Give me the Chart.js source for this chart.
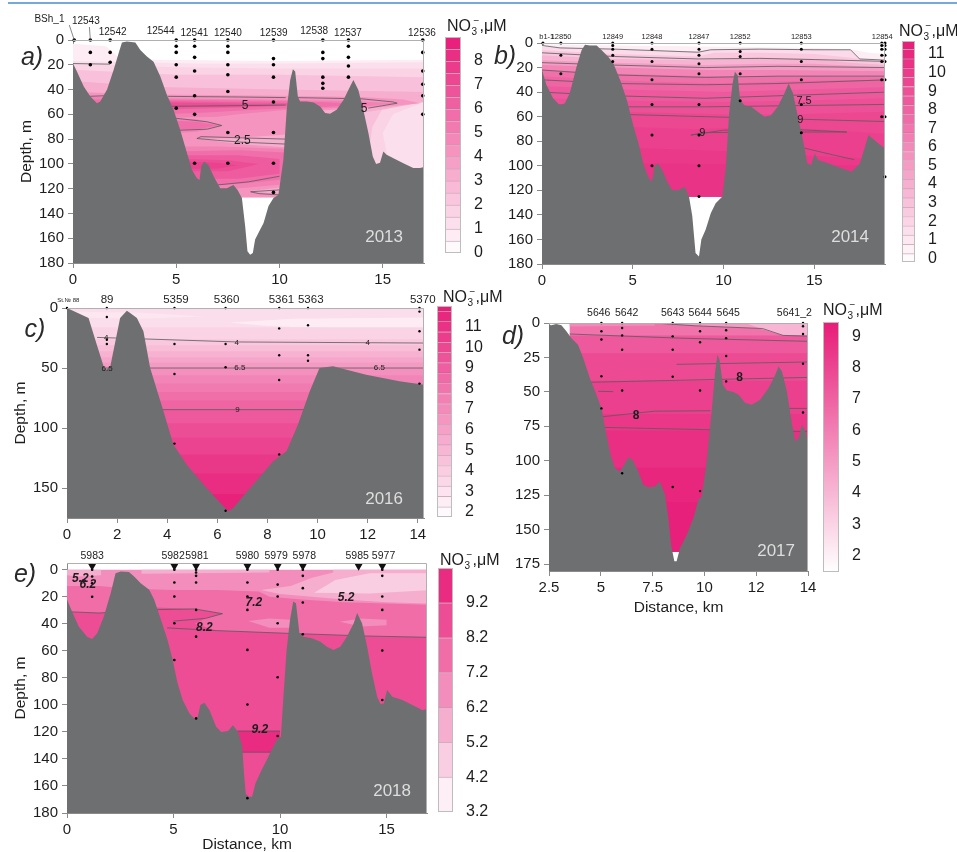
<!DOCTYPE html>
<html>
<head>
<meta charset="utf-8">
<title>NO3 sections 2013-2018</title>
<script src="https://cdn.jsdelivr.net/npm/chart.js@4.4.1/dist/chart.umd.min.js"></script>
<style>
  html, body { margin: 0; padding: 0; background: #fff; }
  body { position: relative; width: 957px; height: 852px; overflow: hidden; }
  .rule { position: absolute; left: 8px; right: 0; top: 2px; height: 2px; background: #74aadb; }
  canvas { position: absolute; }
</style>
</head>
<body>
<div class="rule"></div>
<canvas id="secA"></canvas><canvas id="barA"></canvas>
<canvas id="secB"></canvas><canvas id="barB"></canvas>
<canvas id="secC"></canvas><canvas id="barC"></canvas>
<canvas id="secD"></canvas><canvas id="barD"></canvas>
<canvas id="secE"></canvas><canvas id="barE"></canvas>
<script>
// ---------- a) 2013 ----------
const stationsA = ['BSh_1', '12543', '12542', '12544', '12541', '12540', '12539', '12538', '12537', '12536'];
const stationKmA = [0.06, 0.84, 1.8, 5.0, 5.89, 7.5, 9.71, 12.1, 13.34, 16.94];
const labelKmA = [-1.14, 0.62, 1.92, 4.24, 5.88, 7.5, 9.72, 11.68, 13.32, 16.9];
const castsA = [[0], [0, 10, 20], [0, 10, 18], [0, 5, 10, 20, 30, 55], [0, 5, 14, 25, 45, 60, 99.5],
  [0, 5, 10, 20, 28, 41.6, 74.7, 99.5], [0, 15, 20, 30, 50, 74.7, 99.5, 123], [0, 10, 15, 30, 35, 39],
  [0, 5, 14, 21, 30], [0, 10, 25, 35.7, 45, 60]];
const bathyA = [[0,19],[0.19,25.5],[0.52,37.6],[0.84,45.7],[1.16,51],[1.32,49.7],[1.65,40],[1.97,24],[2.21,10.7],
  [2.37,2],[2.61,1.3],[3.02,2],[3.26,8],[3.58,13.4],[3.9,17.5],[4.23,29.5],[4.55,44.3],[4.87,56.4],[5.19,72.5],
  [5.52,91.3],[5.76,104.8],[6.0,111.5],[6.13,112.8],[6.21,102],[6.35,98],[6.56,100.8],[6.81,110],[7.13,119.6],
  [7.45,119.6],[7.77,117],[7.97,121],[8.18,127.6],[8.34,150.5],[8.45,170.6],[8.58,173.3],[8.71,172],[8.82,161],
  [8.98,155.8],[9.23,147.8],[9.47,134],[9.71,127.6],[9.95,125],[10.19,96.7],[10.35,56.4],[10.52,32.2],[10.65,23.6],
  [10.76,25.5],[10.89,45.7],[11.0,49.7],[11.32,49.7],[11.65,50.5],[11.97,53.7],[12.21,59],[12.45,59.6],[12.77,56.4],
  [13.1,48.4],[13.42,37.6],[13.58,32.2],[13.82,40.3],[14.06,56.4],[14.31,75.2],[14.52,94],[14.68,100],[14.87,99],
  [15.03,90],[15.19,92.6],[15.52,95.4],[16.0,99.4],[16.48,103.4],[16.81,103.4],[17,102.6]];
const zonesA = [
  [0.75, [[0,3],[1.6,5],[2.2,14],[4,16],[10,17],[17,16],[17,127],[0,127]]],
  [1.25, [[0,17],[6,19],[10,19],[17,18],[17,127],[0,127]]],
  [1.75, [[0,19],[5,22],[10,23],[17,23],[17,50],[15.5,60],[15,75],[15.3,100],[14.5,127],[0,127]]],
  [2.5, [[0,24],[5,28],[10,28],[17,30],[17,45],[15,55],[14.5,70],[14,127],[0,127]]],
  [3.25, [[0,33],[4,38],[10,40],[17,42],[17,50],[15,56],[13.5,60],[13.5,127],[0,127]]],
  [4.25, [[0,42],[4,44],[10,45],[14,46],[16,48],[16.8,51],[15,54],[12,57],[10.5,60],[10.5,76],[8,79],[6.2,80],[8,84],
          [10.5,87],[10.5,118],[8.5,122],[10.5,125],[10.5,127],[0,127]]],
  [5.0, [[0,45],[4,47],[9,48],[13,49],[15.6,51],[14,54],[10.5,56],[8,60],[7,62],[4,63],[0,63]]],
  [5.0, [[4,63],[6,64],[7.3,69],[6,74],[4,76]]],
  [5.0, [[4.5,86],[7,86],[10.5,88],[10.5,116],[8.5,119],[6,122],[4.5,120]]],
  [5.75, [[0,48],[4,48],[9,49],[12,50],[14.4,52],[12,54],[9,56],[6,59],[4,60],[0,60]]],
  [5.75, [[4.5,65],[6,66],[7,69],[6,72],[4.5,73]]],
  [5.75, [[5,90],[8,89],[10.5,91],[10.5,112],[8,116],[6,118],[5,116]]],
  [6.5, [[4.5,49.5],[9,50.5],[12,51.5],[9,54],[4.5,56]]],
  [6.5, [[5.5,93],[8,93],[10,96],[10,108],[8,112],[5.5,112]]],
  [7.0, [[4.5,50.5],[8,51.5],[10,52.5],[8,53.5],[4.5,54.5]]],
  [7.0, [[5.5,96],[7.5,97],[9,100],[7.5,106],[5.5,106]]],
  [7.5, [[5.5,98],[7,99],[8,101],[7,104],[5.5,104]]]
];
const linesA = [
  [[0,19],[1.8,19.5]],
  [[0.7,45.5],[1.5,45]],
  [[4.6,45.5],[8,46],[10.3,46.5]],
  [[10.8,46.5],[14,47.5],[15.5,50],[15.7,51],[15,53],[14.3,55]],
  [[4.8,53.5],[8,53],[10.3,52.5]],
  [[4.9,63],[6.5,66],[7.2,69],[6.5,72],[4.9,73]],
  [[10.3,80],[8.2,79],[6.2,78],[6,79.5],[7,81],[8.2,82.5],[10.3,84]],
  [[7,117],[8.5,114.5],[10,110]],
  [[10,121],[8.6,122.5],[9,124],[10,125]]
];
const isoLabelsA = [['5', 8.34, 53], ['2.5', 8.2, 81], ['5', 14.1, 55.6]];
const levelsA = [0,0.5,1,1.5,2,2.5,3,3.5,4,4.5,5,5.5,6,6.5,7,7.5,8,8.5,9];
const barTicksA = [0,1,2,3,4,5,6,7,8];

// ---------- b) 2014 ----------
const stationsB = ['b1-1', '12850', '12849', '12848', '12847', '12852', '12853', '12854', ''];
const stationKmB = [0.05, 1.04, 3.9, 6.06, 8.65, 10.92, 14.29, 18.72, 18.9];
const labelKmB = [0.26, 1.05, 3.9, 6.06, 8.65, 10.92, 14.29, 18.75, 18.9];
const castsB = [[0], [0, 10, 25], [0, 2, 5, 10, 15], [0, 5, 15, 30, 50, 75, 100], [0, 5, 10, 17, 25, 50, 75, 100, 125],
  [0, 7, 11, 25, 47], [0, 5, 15, 30, 50, 73], [0, 2, 5, 10, 15, 30, 60], [0, 2, 5, 10, 15, 30, 60, 109]];
const bathyB = [[0,22],[0.24,34],[0.61,45],[0.98,50.6],[1.26,49],[1.53,41],[1.9,19.5],[2.18,6],[2.37,1.4],[2.64,2],
  [3.01,2],[3.29,6],[3.66,11.4],[3.94,16.8],[4.31,30.3],[4.68,46.6],[5.05,68.2],[5.32,81.8],[5.6,99.4],[5.88,110],
  [6.06,113],[6.19,100.7],[6.38,98],[6.62,103.4],[6.9,113],[7.17,119.7],[7.54,119.7],[7.86,117],[8.1,125],[8.28,141],
  [8.46,171],[8.65,173.8],[8.78,160],[9.02,152],[9.3,138.6],[9.57,130.5],[9.94,125],[10.13,100.7],[10.31,57.4],
  [10.5,33],[10.63,23.5],[10.78,26.3],[10.92,46.6],[11.15,50.6],[11.52,52],[11.89,56],[12.26,60],[12.62,58.8],
  [12.99,52],[13.36,41],[13.59,33],[13.83,41],[14.1,60],[14.38,79],[14.62,98],[14.84,99.4],[15.03,90],[15.21,95.3],
  [15.77,98],[16.51,102],[17.06,104.8],[17.52,98],[17.99,75],[18.54,81.8],[19,87]];
const zonesB = [
  [0.75, [[0,1],[4,2],[10,3],[15,4],[17,5],[18,8],[19,9],[19,125],[0,125]]],
  [1.75, [[0,3],[4,5],[8.5,7],[9.5,5],[12,4.5],[15,5],[17,6],[17.5,13],[19,14],[19,125],[0,125]]],
  [2.75, [[0,6],[4,9],[8.6,11],[9.5,8],[12,8],[15,9],[17,12],[19,16],[19,125],[0,125]]],
  [3.75, [[0,10],[4,13],[8.6,14],[12,12],[15,13],[17,16],[19,18],[19,125],[0,125]]],
  [5.0, [[0,14],[4,16],[9,18],[12,17],[15,17],[19,20],[19,125],[0,125]]],
  [6.25, [[0,18],[4,20],[9,22],[13,22],[19,23],[19,125],[0,125]]],
  [7.25, [[0,22],[4,25],[9,27],[13,27],[19,28],[19,125],[0,125]]],
  [7.9, [[0,27],[5,31],[10,33],[14,31],[19,30],[19,125],[0,125]]],
  [8.5, [[0,35],[5,38],[10,40],[14,38],[19,36],[19,125],[0,125]]],
  [9.0, [[0,45],[5,47],[10,48],[14,47],[19,45],[19,125],[0,125]]],
  [9.4, [[4,56],[10,58],[14,58],[19,56],[19,125],[4,125]]],
  [9.8, [[4,68],[8.3,70],[11,69],[15,70],[17,72],[19,74],[19,125],[4,125]]],
  [10.2, [[4,85],[10,88],[13,90],[15,92],[19,95],[19,125],[4,125]]],
  [10.5, [[4,98],[19,100],[19,125],[4,125]]]
];
const linesB = [
  [[0,2],[1,4],[4,5],[8.6,7.5],[9.3,5.5],[12,5],[15,5.5],[17,5.5],[17.5,13],[19,14]],
  [[0,8],[4,11],[8.6,13],[12,12.5],[15,13.5],[19,15]],
  [[0,16],[4,18],[9,20],[13,19],[19,20]],
  [[0,22],[4,26],[9,28],[13,27],[19,27]],
  [[0,30],[4,33],[9,34],[13,33],[19,30]],
  [[0,40],[4,43],[9,45],[13,43],[19,40]],
  [[0,50],[4,52],[9,52],[14,51],[19,50]],
  [[4,58],[9,60],[14,62],[19,64]],
  [[8.2,75],[9,73],[12,72.5],[16.8,72.5],[14,70.5],[10,71],[8.2,75]],
  [[14,84],[16,91],[17.2,95]]
];
const isoLabelsB = [['7.5', 14.44, 47], ['9', 14.23, 62.8], ['9', 8.84, 73]];
const levelsB = [-0.2,0.25,0.75,1.25,1.75,2.25,2.75,3.25,3.75,4.25,4.75,5.25,5.75,6.25,6.75,7.25,7.75,8.25,8.75,
  9.25,9.75,10.25,10.75,11.25,11.7];
const barTicksB = [0,1,2,3,4,5,6,7,8,9,10,11];

// ---------- c) 2016 ----------
const stationsC = ['St.№ 88', '89', '5359', '5360', '5361', '5363', '5370'];
const stationKmC = [0, 1.59, 4.29, 6.33, 8.47, 9.62, 14.07];
const labelKmC = [0.05, 1.6, 4.35, 6.37, 8.56, 9.73, 14.2];
const castsC = [[0], [0, 7.5, 26.4, 30], [0, 30, 55, 113], [0, 30, 49.4, 169], [0, 17, 39.4, 60, 122],
  [0, 14.4, 39.4, 44], [0, 3, 19.4, 34.7, 63]];
const bathyC = [[0,0],[0.86,8.3],[1.19,30.6],[1.46,48.6],[1.57,51.4],[1.73,48.6],[2.12,8.3],[2.39,2.2],[2.52,4.2],
  [2.79,8.3],[3.05,19.4],[3.32,50],[3.85,86],[4.25,114],[4.78,130.6],[5.57,150],[6.24,165.3],[6.44,169.4],
  [6.63,166.7],[7.43,147],[8.23,127.8],[8.76,119.4],[9.22,97],[9.69,69.4],[10.08,50],[10.62,48.6],[11.94,55.6],
  [13.27,61],[14.25,64]];
// [NO3 value, depth where that layer begins]
const layersC = [[3.25,0],[3.75,16],[4.25,26],[4.75,31],[5.25,36],[5.75,41],[6.25,45.5],[6.75,50],[7.25,56],
  [7.75,63],[8.25,70],[8.75,77],[9.25,85],[9.75,96],[10.25,108],[10.75,122],[11.25,138],[11.75,155]];
const streaksC = [
  [2.6, [[6.5,12],[9,9],[14.25,8],[14.25,19],[11,17],[8,15]]],
  [2.9, [[0,3],[3,4],[5.5,7],[3,9],[0,8]]]
];
const linesC = [[[1.2,24.5],[6.8,28.3],[14.25,29.2]], [[1.5,50],[14.25,50]], [[3.8,84.7],[9.6,84.7]]];
const isoLabelsC = [['4',1.57,25],['4',6.77,29],['4',12.0,29],['6.5',1.6,50.5],['6.5',6.9,50],['6.5',12.47,50],['9',6.8,85]];
const levelsC = [1.75,2.25,2.75,3.25,3.75,4.25,4.75,5.25,5.75,6.25,6.75,7.25,7.75,8.25,8.75,9.25,9.75,10.25,
  10.75,11.25,11.75,12];
const barTicksC = [2,3,4,5,6,7,8,9,10,11];

// ---------- d) 2017 ----------
const stationsD = ['5646', '5642', '5643', '5644', '5645', '5641_2'];
const stationKmD = [5.03, 6.03, 8.47, 9.79, 11.05, 14.76];
const labelKmD = [4.9, 6.25, 8.47, 9.8, 11.15, 14.34];
const castsD = [[0, 6, 12, 38.7, 62], [0, 3.6, 9, 19.4, 49, 109], [0, 9.7, 19.4, 39, 119], [0, 6, 14, 49, 122],
  [0, 5.3, 11, 24, 42.4], [0, 2.4, 8, 29.5, 65]];
const xTickLabelsD = ['2.5', '5', '7.5', '10', '12', '14'];
const bathyD = [[2.5,1.2],[2.61,1.7],[2.85,0.7],[3.1,1.7],[3.34,6],[3.58,11],[3.9,15.7],[4.15,25.4],[4.47,40],
  [4.79,52],[5.03,61.7],[5.24,78.7],[5.47,95.6],[5.68,105.3],[5.92,107.7],[6.08,104],[6.32,97.6],[6.53,99.2],
  [6.81,107.7],[7.05,117.4],[7.29,119.3],[7.61,118.6],[7.85,115],[8.1,124.7],[8.26,141.6],[8.39,161],[8.47,167],
  [8.55,173],[8.66,173],[8.82,163.4],[9.15,153.7],[9.47,141.6],[9.71,128.3],[9.87,126],[10.11,100.5],[10.35,64],
  [10.52,35],[10.63,23],[10.73,26.6],[10.89,44.8],[11.08,49],[11.4,50],[11.65,52],[11.97,58],[12.29,59.3],
  [12.69,55.7],[13.1,47.2],[13.42,37.5],[13.58,31.5],[13.74,35],[13.98,49.6],[14.23,73.8],[14.39,86],[14.55,83.5],
  [14.71,73.8],[14.87,78.7],[15,87]];
const layersD = [[6.4,0],[7.3,9],[7.8,22],[8.2,42],[8.5,66],[8.8,78],[9.1,105],[9.3,130]];
const patchesD = [
  [5.6, [[3.5,0],[7.6,0],[7.6,2],[3.5,2.5]]],
  [5.0, [[7.6,0],[15,0],[15,3],[12.8,4],[9.5,2]]],
  [4.0, [[12,0],[15,0],[15,9.5],[13.8,9],[12.8,4.5]]]
];
const linesD = [
  [[7.6,0],[9.5,2],[12.8,4],[13.8,9],[15,9.5]],
  [[3.5,8],[8.8,11],[15,13.3]],
  [[8.66,30],[15,28.3]],
  [[4.5,43],[15,39.5]],
  [[4.87,49.6],[5.6,49.8]],
  [[5.1,68],[7.6,64],[10.3,63.7]],
  [[13.8,62],[15,62]],
  [[5.2,75.8],[10.3,77.5]],
  [[13.9,78.7],[15,78.7]]
];
const isoLabelsD = [['8', 11.7, 40], ['8', 6.7, 67]];
const barTicksD = [2,3,4,5,6,7,8,9];

// ---------- e) 2018 ----------
const stationsE = ['5983', '5982', '5981', '5980', '5979', '5978', '5985', '5977'];
const stationKmE = [1.18, 5.04, 6.06, 8.47, 9.89, 11.07, 13.69, 14.8];
const labelKmE = [1.18, 4.98, 6.1, 8.47, 9.82, 11.14, 13.62, 14.86];
const castsE = [[0, 5, 10, 20], [0, 9.4, 19.8, 39.6, 66.8], [0, 2, 4.5, 9.4, 29.7, 49.5, 110],
  [0, 9.4, 19.8, 29.7, 59.3, 99.7, 169], [0, 11, 19.8, 39.6, 79.6, 123], [0, 4.5, 13.6, 24.2, 47.7], [],
  [0, 4.5, 19.8, 29.7, 59.8, 96.4]];
const bathyE = [[0,22],[0.24,31],[0.55,42],[0.94,49.5],[1.18,51.2],[1.42,47],[1.73,34.6],[2.05,17.3],[2.28,2.5],
  [2.52,1.2],[2.91,1.7],[3.15,5],[3.46,10],[3.86,14.8],[4.09,22],[4.41,37],[4.72,52],[4.96,66.8],[5.19,84],
  [5.43,96.4],[5.75,106.3],[5.98,110],[6.14,109],[6.26,100],[6.45,98.4],[6.69,103.9],[7.0,116.2],[7.24,120],
  [7.56,119.4],[7.79,115],[8.03,120],[8.22,129.8],[8.31,151],[8.39,165.7],[8.53,168],[8.69,168],[8.85,158],
  [9.13,148.4],[9.37,141],[9.6,133.5],[9.84,126],[10.04,123.6],[10.15,96.4],[10.31,59.3],[10.47,37],[10.62,23.5],
  [10.75,24.7],[10.91,47],[11.1,49.5],[11.49,50.7],[11.88,53],[12.2,57],[12.51,59.3],[12.83,57],[13.14,49.5],
  [13.46,39.6],[13.62,32],[13.85,39.6],[14.09,57],[14.32,76.7],[14.56,94],[14.72,99.4],[14.87,99],[15.03,89],
  [15.27,94],[15.74,96.4],[16.21,100],[16.69,104],[17,102.6]];
// value = lower bound of the band
const zonesE = [
  [6.2, [[0,0],[17,0],[17,170],[0,170]]],
  [5.2, [[0,0],[1.6,0],[1.6,4],[0.5,5],[0,4]]],
  [5.2, [[3.5,0],[9.5,0],[9.5,2],[3.5,3]]],
  [5.2, [[9.1,15],[10.5,12],[11.5,6],[12.5,2],[12.5,0],[17,0],[17,25],[15,24],[13,22],[11.5,20],[10,18]]],
  [4.2, [[11.6,17],[12.6,7.5],[14.2,2.5],[17,2.5],[17,15],[14.2,17.5]]],
  [7.2, [[0,12],[1.5,12],[3,14],[5,15],[7,15],[9,16],[9.5,20],[11,22],[13,24],[17,26],[17,170],[0,170]]],
  [6.2, [[8.5,38],[9.5,36],[10.5,37],[10.5,43],[9.5,43]]],
  [6.2, [[12.8,38.5],[13.8,36],[15,37],[15,41],[13.8,42]]],
  [8.2, [[0,31],[1.5,32],[4.2,28],[6,29],[7.3,32.5],[6.5,36],[6,40],[7,45],[10.3,47],[14,49],[17,50],[17,170],[0,170]]],
  [9.2, [[8,119],[10,119],[10,135],[8,135]]]
];
const linesE = [
  [[0,31],[1.5,32],[4.2,29.5],[6,29],[7.3,32.5],[6.5,36],[5,38]],
  [[4.7,43],[7,45],[10.3,47],[14,49],[17,50]],
  [[8,119.5],[10,119.5]],
  [[8.2,135],[9.6,135]]
];
const isoLabelsE = [['5.2',0.63,6.9],['6.2',0.98,11],['7.2',8.77,24.7],['8.2',6.45,42.5],['5.2',13.1,21],['9.2',9.05,118.7]];
const levelsE = [3.2,4.2,5.2,6.2,7.2,8.2,9.2,10.2];
const barTicksE = [3.2,4.2,5.2,6.2,7.2,8.2,9.2];

const depthTicks20 = [0,20,40,60,80,100,120,140,160,180];

// ---------- drawing ----------
const FAM = '"Liberation Sans Narrow","Liberation Sans",Arial,sans-serif';
const INK = '#1d1d1d';
const GROUND = '#6e6f70';
const PINK = [231, 28, 120];

function shade(v, lo, hi) {
  const t = Math.max(0, Math.min(1, (v - lo) / (hi - lo)));
  const c = PINK.map(p => Math.round(255 + (p - 255) * t));
  return `rgb(${c[0]},${c[1]},${c[2]})`;
}
function xy(list) { return list.map(([x, y]) => ({x, y})); }
function slab(x0, x1, top, floor) { return [[x0, top], [x1, top], [x1, floor], [x0, floor]]; }
function area(poly, col) {
  return {data: xy(poly), fill: 'shape', backgroundColor: col, borderColor: col, borderWidth: 0, pointRadius: 0, tension: 0};
}

function section(id, box, o) {
  const [L, T, R, B] = box;
  const ML = 75, MT = 45, MR = 20, MB = 55;
  const cv = document.getElementById(id);
  cv.width = R - L + ML + MR;
  cv.height = B - T + MT + MB;
  cv.style.left = (L - ML) + 'px';
  cv.style.top = (T - MT) + 'px';

  const sets = [];
  o.zones.forEach(([v, poly]) => sets.push(area(poly, o.color(v))));
  o.lines.forEach(l => sets.push({data: xy(l), borderColor: '#5a5a5a', borderWidth: 0.8, pointRadius: 0, fill: false, tension: 0}));
  const b = o.bathy;
  sets.push(area(b.concat([[b[b.length - 1][0], o.yMax + 10], [b[0][0], o.yMax + 10]]), GROUND));
  const dots = [];
  o.casts.forEach((depths, i) => depths.forEach(d => dots.push({x: o.stKm[i], y: d})));
  sets.push({data: dots, showLine: false, pointRadius: o.dot, pointBackgroundColor: '#000', pointBorderWidth: 0, clip: false});
  if (o.marks) {
    sets.push({data: o.stKm.map(x => ({x, y: -2.6})), showLine: false, pointStyle: 'triangle', pointRotation: 180,
      pointRadius: 4.5, pointBackgroundColor: '#111', pointBorderWidth: 0, clip: false});
  }
  sets.forEach((s, i) => { s.order = sets.length - i; });

  const tickFont = {family: FAM, size: 15};
  const xLabels = o.xLabels || o.xTicks.map(String);

  new Chart(cv, {
    type: 'line',
    data: {datasets: sets},
    options: {
      responsive: false, animation: false, events: [],
      layout: {padding: {left: 0, top: MT, right: MR, bottom: 0}},
      plugins: {legend: {display: false}, tooltip: {enabled: false}},
      scales: {
        x: {
          type: 'linear', min: o.xMin, max: o.xMax,
          afterBuildTicks: s => { s.ticks = o.xTicks.map(v => ({value: v})); },
          afterFit: s => { s.height = MB; s.paddingLeft = 0; s.paddingRight = 0; },
          ticks: {font: tickFont, color: INK, padding: 3, autoSkip: false, maxRotation: 0, callback: (v, i) => xLabels[i]},
          grid: {drawOnChartArea: false, tickLength: 5, color: '#8a8a8a'},
          border: {color: '#8a8a8a'}
        },
        y: {
          type: 'linear', reverse: true, min: o.yMin, max: o.yMax,
          afterBuildTicks: s => { s.ticks = o.yTicks.map(v => ({value: v})); },
          afterFit: s => { s.width = ML; s.paddingTop = 0; s.paddingBottom = 0; },
          ticks: {font: tickFont, color: INK, padding: 4, autoSkip: false, callback: v => String(v)},
          grid: {drawOnChartArea: false, tickLength: 5, color: '#8a8a8a'},
          border: {color: '#8a8a8a'}
        }
      }
    },
    plugins: [{
      id: 'decor',
      afterDraw(chart) {
        const {ctx, chartArea: a, scales: {x, y}} = chart;
        ctx.save();
        ctx.strokeStyle = '#b0b0b0';
        ctx.lineWidth = 1;
        ctx.beginPath();
        ctx.moveTo(a.left, a.top + 0.5); ctx.lineTo(a.right - 0.5, a.top + 0.5); ctx.lineTo(a.right - 0.5, a.bottom);
        ctx.stroke();

        // station names
        ctx.fillStyle = INK;
        ctx.textAlign = 'center';
        ctx.textBaseline = 'middle';
        o.names.forEach((n, i) => {
          const size = Array.isArray(o.nameSize) ? o.nameSize[i] : o.nameSize;
          const lift = Array.isArray(o.lift) ? o.lift[i] : o.lift;
          ctx.font = `${size}px ${FAM}`;
          const lx = x.getPixelForValue(o.nameKm[i]);
          ctx.fillText(n, lx, a.top - lift);
          if (o.leaders && o.leaders.includes(i)) {
            const sx = x.getPixelForValue(o.stKm[i]);
            ctx.strokeStyle = '#555';
            ctx.lineWidth = 0.7;
            ctx.beginPath();
            ctx.moveTo(lx + (sx - lx) * 0.8, a.top - lift + 6);
            ctx.lineTo(sx, a.top);
            ctx.stroke();
          }
        });

        // isoline labels
        ctx.font = o.isoFont;
        o.isoLabels.forEach(([t, vx, vy]) => ctx.fillText(t, x.getPixelForValue(vx), y.getPixelForValue(vy)));

        // year
        ctx.font = `17px ${FAM}`;
        ctx.fillStyle = '#dedede';
        ctx.textAlign = 'right';
        ctx.textBaseline = 'bottom';
        ctx.fillText(o.year, a.right - o.yearAt[0], a.bottom - o.yearAt[1]);

        // panel letter
        ctx.font = `italic 25px "Liberation Sans",Arial,sans-serif`;
        ctx.fillStyle = '#2a2a2a';
        ctx.textAlign = 'center';
        ctx.textBaseline = 'middle';
        ctx.fillText(o.letter, a.left + o.letterAt[0], a.top + o.letterAt[1]);

        // axis titles
        ctx.fillStyle = INK;
        ctx.font = `15.5px ${FAM}`;
        if (o.depthTitle) {
          ctx.save();
          ctx.translate(a.left - 46, (a.top + a.bottom) / 2);
          ctx.rotate(-Math.PI / 2);
          ctx.fillText('Depth, m', 0, 0);
          ctx.restore();
        }
        if (o.distTitle) ctx.fillText('Distance, km', (a.left + a.right) / 2, a.bottom + o.distTitle);
        ctx.restore();
      }
    }]
  });
}

function colorbar(id, box, o) {
  const [L, T, R, B] = box;
  const PL = 8, CT = 30, CB = 12, AW = 52;
  const cv = document.getElementById(id);
  cv.width = R - L + PL + AW;
  cv.height = B - T + CT + CB;
  cv.style.left = (L - PL) + 'px';
  cv.style.top = (T - CT) + 'px';
  const lo = o.levels[0], hi = o.levels[o.levels.length - 1];
  let sets;
  if (o.smooth) {
    sets = [{
      data: [[lo, hi]], borderWidth: 0,
      backgroundColor: c => {
        const a = c.chart.chartArea;
        if (!a) return o.color(hi);
        const g = c.chart.ctx.createLinearGradient(0, a.bottom, 0, a.top);
        g.addColorStop(0, o.color(lo));
        g.addColorStop(1, o.color(hi));
        return g;
      }
    }];
  } else {
    sets = o.levels.slice(0, -1).map((v, i) => ({
      data: [[v, o.levels[i + 1]]],
      backgroundColor: o.color((v + o.levels[i + 1]) / 2),
      borderColor: 'rgba(120,40,80,0.35)',
      borderWidth: {top: 1, bottom: 0, left: 0, right: 0},
      borderSkipped: false
    }));
  }
  sets.forEach(s => { s.barPercentage = 1; s.categoryPercentage = 1; s.grouped = false; });

  new Chart(cv, {
    type: 'bar',
    data: {labels: [''], datasets: sets},
    options: {
      responsive: false, animation: false, events: [],
      layout: {padding: {left: PL, top: CT, right: 0, bottom: CB}},
      plugins: {legend: {display: false}, tooltip: {enabled: false}},
      scales: {
        x: {display: false},
        y: {
          position: 'right', min: lo, max: hi,
          afterBuildTicks: s => { s.ticks = o.ticks.map(v => ({value: v})); },
          afterFit: s => { s.width = AW; s.paddingTop = 0; s.paddingBottom = 0; },
          ticks: {font: {family: FAM, size: 16}, color: INK, padding: 5, autoSkip: false, callback: v => String(v)},
          grid: {display: false},
          border: {display: false}
        }
      }
    },
    plugins: [{
      id: 'bardecor',
      afterDraw(chart) {
        const {ctx, chartArea: a} = chart;
        ctx.save();
        ctx.strokeStyle = '#bdbdbd';
        ctx.lineWidth = 1;
        ctx.strokeRect(a.left + 0.5, a.top + 0.5, a.width - 1, a.height - 1);
        ctx.fillStyle = INK;
        ctx.textAlign = 'left';
        ctx.textBaseline = 'alphabetic';
        let cx = a.left + o.titleDx;
        const by = a.top - o.titleDy;
        ctx.font = `16px ${FAM}`;
        ctx.fillText('NO', cx, by);
        cx += ctx.measureText('NO').width;
        ctx.font = `10px ${FAM}`;
        ctx.fillText('3', cx + 0.5, by + 4);
        ctx.fillText('−', cx + 2.5, by - 7);
        cx += 8.5;
        ctx.font = `16px ${FAM}`;
        ctx.fillText(',μM', cx, by);
        ctx.restore();
      }
    }]
  });
}

// a)
section('secA', [73, 40, 424, 263], {
  xMin: 0, xMax: 17, yMin: 0, yMax: 180, xTicks: [0, 5, 10, 15], yTicks: depthTicks20,
  bathy: bathyA, zones: zonesA, lines: linesA, isoLabels: isoLabelsA, isoFont: `12px ${FAM}`,
  names: stationsA, stKm: stationKmA, nameKm: labelKmA, casts: castsA, leaders: [0, 1],
  lift: [21, 19, 8, 9, 7, 7, 7, 9, 7, 7], nameSize: 10, dot: 1.8,
  color: v => shade(v, 0, 9), letter: 'a)', letterAt: [-41, 18], year: '2013', yearAt: [21, 17], depthTitle: true
});
colorbar('barA', [445, 37, 461, 253], {levels: levelsA, ticks: barTicksA, color: v => shade(v, 0, 9), titleDx: 2, titleDy: 6});

// b)
section('secB', [542, 43, 885, 264], {
  xMin: 0, xMax: 18.9, yMin: 0, yMax: 180, xTicks: [0, 5, 10, 15], yTicks: depthTicks20,
  bathy: bathyB, zones: zonesB, lines: linesB, isoLabels: isoLabelsB, isoFont: `11px ${FAM}`,
  names: stationsB, stKm: stationKmB, nameKm: labelKmB, casts: castsB,
  lift: 6.5, nameSize: 7.5, dot: 1.5,
  color: v => shade(v, -0.2, 11.7), letter: 'b)', letterAt: [-37, 14], year: '2014', yearAt: [16, 18]
});
colorbar('barB', [902, 41, 915, 262], {levels: levelsB, ticks: barTicksB, color: v => shade(v, -0.2, 11.7), titleDx: -3, titleDy: 5});

// c)
const zonesC = [];
layersC.forEach(([v, d], i) => {
  zonesC.push([v, slab(0, 14.25, d, 175)]);
  if (i === 0) streaksC.forEach(s => zonesC.push(s));
});
section('secC', [67, 308, 424, 518], {
  xMin: 0, xMax: 14.25, yMin: 0, yMax: 175, xTicks: [0, 2, 4, 6, 8, 10, 12, 14], yTicks: [0, 50, 100, 150],
  bathy: bathyC, zones: zonesC, lines: linesC, isoLabels: isoLabelsC, isoFont: `8px ${FAM}`,
  names: stationsC, stKm: stationKmC, nameKm: labelKmC, casts: castsC,
  lift: 8, nameSize: [6, 11.5, 11.5, 11.5, 11.5, 11.5, 11.5], dot: 1.2,
  color: v => shade(v, 1.75, 12), letter: 'c)', letterAt: [-32, 22], year: '2016', yearAt: [21, 10], depthTitle: true
});
colorbar('barC', [437, 306, 452, 517], {levels: levelsC, ticks: barTicksC, color: v => shade(v, 1.75, 12), titleDx: 6, titleDy: 4});

// d)
const zonesD = [];
layersD.forEach(([v, d], i) => {
  zonesD.push([v, slab(3.5, 15, d, 166)]);
  if (i === 0) patchesD.forEach(p => zonesD.push(p));
});
section('secD', [549, 323, 808, 571], {
  xMin: 2.5, xMax: 15, yMin: 0, yMax: 180, xTicks: [2.5, 5, 7.5, 10, 12.5, 15], xLabels: xTickLabelsD,
  yTicks: [0, 25, 50, 75, 100, 125, 150, 175],
  bathy: bathyD, zones: zonesD, lines: linesD, isoLabels: isoLabelsD, isoFont: `bold 12px ${FAM}`,
  names: stationsD, stKm: stationKmD, nameKm: labelKmD, casts: castsD,
  lift: 10, nameSize: 10.5, dot: 1.2,
  color: v => shade(v, 1.47, 9.46), letter: 'd)', letterAt: [-36, 14], year: '2017', yearAt: [13, 11], distTitle: 37
});
colorbar('barD', [823, 322, 839, 572], {levels: [1.47, 9.46], smooth: true, ticks: barTicksD, color: v => shade(v, 1.47, 9.46), titleDx: 0, titleDy: 7});

// e)
section('secE', [67, 563, 427, 813], {
  xMin: 0, xMax: 16.9, yMin: -5, yMax: 180, xTicks: [0, 5, 10, 15], yTicks: depthTicks20,
  bathy: bathyE, zones: zonesE, lines: linesE, isoLabels: isoLabelsE, isoFont: `bold italic 12px ${FAM}`,
  names: stationsE, stKm: stationKmE, nameKm: labelKmE, casts: castsE, marks: true,
  lift: 7, nameSize: 10.5, dot: 1.3,
  color: v => shade(v + 0.5, 3.2, 10.2), letter: 'e)', letterAt: [-42, 12], year: '2018', yearAt: [16, 13],
  depthTitle: true, distTitle: 32
});
colorbar('barE', [438, 568, 453, 812], {levels: levelsE, ticks: barTicksE, color: v => shade(v, 3.2, 10.2), titleDx: 2, titleDy: 3});
</script>
</body>
</html>
